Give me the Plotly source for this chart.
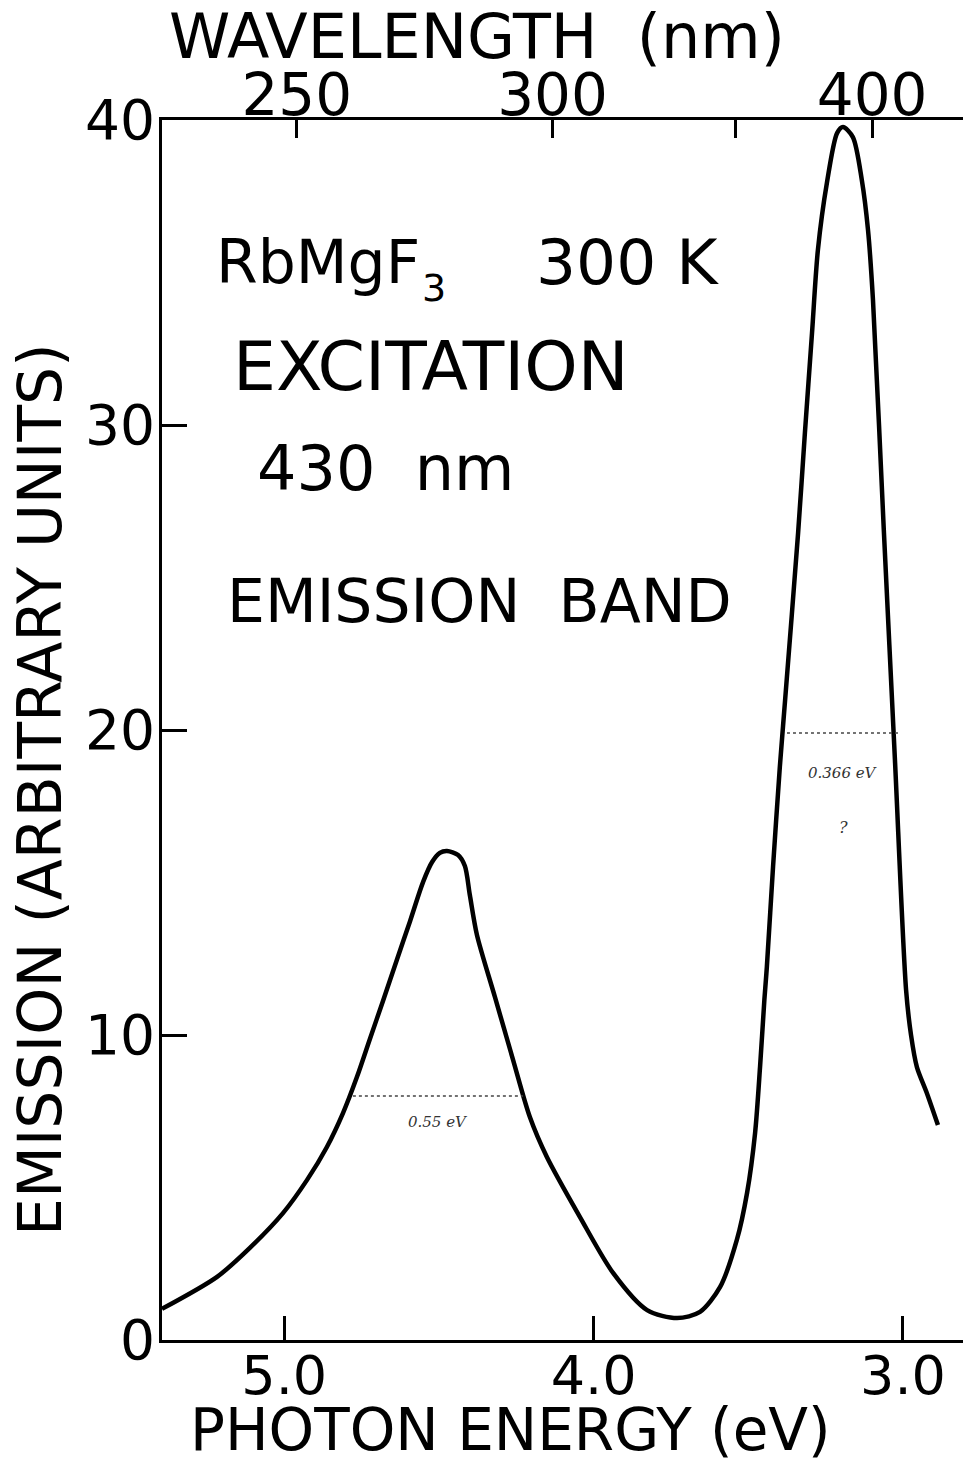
import plotly.graph_objects as go

# ---------------- data ----------------
energy_ev = [5.395, 5.217, 5.111, 5.004, 4.926, 4.862, 4.810, 4.765, 4.723, 4.681,
             4.636, 4.593, 4.551, 4.522, 4.497, 4.474, 4.438, 4.416, 4.400, 4.377,
             4.319, 4.261, 4.206, 4.151, 4.044, 3.937, 3.827, 3.730, 3.656, 3.591,
             3.537, 3.504, 3.478, 3.462, 3.448, 3.440, 3.420, 3.398, 3.381, 3.339,
             3.317, 3.294, 3.275, 3.246, 3.213, 3.194, 3.162, 3.133, 3.113, 3.097,
             3.062, 3.026, 2.990, 2.974, 2.955, 2.923, 2.887]
emission = [1.02, 2.07, 3.02, 4.16, 5.25, 6.33, 7.44, 8.62, 9.87, 11.11,
            12.46, 13.74, 15.02, 15.67, 15.97, 16.03, 15.90, 15.54, 14.59, 13.28,
            11.25, 9.21, 7.31, 6.00, 4.03, 2.20, 0.98, 0.72, 0.92, 1.74,
            3.28, 4.82, 6.79, 8.95, 11.15, 12.23, 15.51, 18.79, 20.98, 26.46,
            29.74, 33.02, 35.74, 37.93, 39.57, 39.77, 39.44, 38.03, 36.39, 34.10,
            26.56, 19.02, 11.48, 10.00, 8.95, 8.10, 7.05]

x_tick_ev = [5.0, 4.0, 3.0]
x_tick_text = ["5.0", "4.0", "3.0"]
y_ticks = [0, 10, 20, 30, 40]
y_tick_text = ["0", "10", "20", "30", "40"]
wl_ticks_nm = [250, 300, 350, 400]
wl_tick_text = ["250", "300", "", "400"]

# half-maximum marks (hand-drawn in the original)
fwhm_level = [8.0, 19.9]
fwhm_lo_ev = [4.778, 3.375]
fwhm_hi_ev = [4.228, 3.010]
fwhm_notes = ["0.55 eV", "0.366 eV"]

HC = 1239.84  # eV*nm

# ---------------- layout geometry ----------------
W, H = 963, 1466
L, R, T, B = 162, 0, 120, 126
X_RANGE = [5.395, 2.806]
Y_RANGE = [0, 40]
FONT = "DejaVu Sans"


def pxx(px):
    return (px - L) / (W - L - R)


def pxy(py):
    return (H - B - py) / (H - T - B)


fig = go.Figure()

fig.add_trace(go.Scatter(
    x=energy_ev, y=emission, mode="lines",
    line=dict(color="black", width=4.5, shape="spline", smoothing=0.8),
    showlegend=False, hoverinfo="skip"))

# invisible copy to activate the top (wavelength) axis
fig.add_trace(go.Scatter(
    x=energy_ev, y=emission, mode="lines", xaxis="x2",
    line=dict(color="rgba(0,0,0,0)", width=0),
    showlegend=False, hoverinfo="skip"))

# half-maximum dotted lines
for lvl, lo, hi in zip(fwhm_level, fwhm_lo_ev, fwhm_hi_ev):
    fig.add_trace(go.Scatter(
        x=[lo, hi], y=[lvl, lvl], mode="lines",
        line=dict(color="#444", width=1.5, dash="dot"),
        showlegend=False, hoverinfo="skip"))

axis_common = dict(showgrid=False, zeroline=False, showline=True,
                   linecolor="black", linewidth=3, ticks="inside",
                   tickcolor="black", tickwidth=3)

fig.update_layout(
    width=W, height=H,
    margin=dict(l=L, r=R, t=T, b=B, pad=0),
    paper_bgcolor="white", plot_bgcolor="white",
    font=dict(family=FONT, color="black"),
    xaxis=dict(range=X_RANGE, tickvals=x_tick_ev, ticktext=x_tick_text,
               ticklen=24, tickfont=dict(size=54), ticklabelstandoff=-14,
               **axis_common),
    xaxis2=dict(range=X_RANGE, overlaying="x", side="top",
                tickvals=[HC / w for w in wl_ticks_nm], ticktext=wl_tick_text,
                ticklen=18, tickfont=dict(size=58), ticklabelstandoff=-21,
                **axis_common),
    yaxis=dict(range=Y_RANGE, tickvals=y_ticks, ticktext=y_tick_text,
               ticklen=25, tickfont=dict(size=55), ticklabelstandoff=-7,
               **axis_common),
)

ann = []
# axis titles
ann.append(dict(text="PHOTON ENERGY (eV)", x=pxx(510), y=pxy(1430),
                font=dict(size=58)))
ann.append(dict(text="WAVELENGTH  (nm)", x=pxx(477), y=pxy(37),
                font=dict(size=62)))
ann.append(dict(text="EMISSION (ARBITRARY UNITS)", x=pxx(40), y=pxy(790),
                textangle=-90, font=dict(size=60)))
# text block
ann.append(dict(text="RbMgF", x=pxx(214), y=pxy(262), xanchor="left",
                font=dict(size=60)))
ann.append(dict(text="3", x=pxx(420), y=pxy(288), xanchor="left",
                font=dict(size=38)))
ann.append(dict(text="300 K", x=pxx(534), y=pxy(262), xanchor="left",
                font=dict(size=63)))
ann.append(dict(text="EXCITATION", x=pxx(231), y=pxy(366), xanchor="left",
                font=dict(size=68)))
ann.append(dict(text="430  nm", x=pxx(255), y=pxy(468), xanchor="left",
                font=dict(size=62)))
ann.append(dict(text="EMISSION  BAND", x=pxx(225), y=pxy(601), xanchor="left",
                font=dict(size=60)))
# hand-written notes
note_font = dict(size=15, family="DejaVu Serif", style="italic", color="#333")
ann.append(dict(text=fwhm_notes[0], x=(fwhm_lo_ev[0] + fwhm_hi_ev[0]) / 2,
                y=fwhm_level[0], xref="x", yref="y", yshift=-26,
                font=note_font))
ann.append(dict(text=fwhm_notes[1], x=(fwhm_lo_ev[1] + fwhm_hi_ev[1]) / 2,
                y=fwhm_level[1], xref="x", yref="y", yshift=-40,
                font=note_font))
ann.append(dict(text="?", x=(fwhm_lo_ev[1] + fwhm_hi_ev[1]) / 2,
                y=fwhm_level[1], xref="x", yref="y", yshift=-94,
                font=dict(note_font, size=16)))

for a in ann:
    a.setdefault("xref", "paper")
    a.setdefault("yref", "paper")
    a.setdefault("xanchor", "center")
    a.setdefault("yanchor", "middle")
    a["showarrow"] = False
fig.update_layout(annotations=ann)

fig.write_html("out.html")
